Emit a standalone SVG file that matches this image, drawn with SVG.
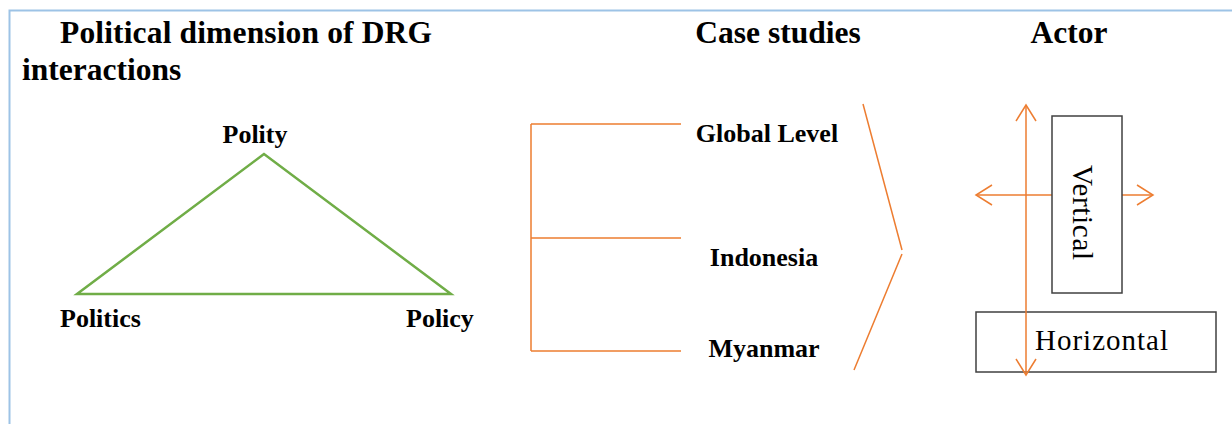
<svg xmlns="http://www.w3.org/2000/svg" width="1232" height="424" viewBox="0 0 1232 424">
<style>
.title{font-family:"Liberation Serif",serif;font-weight:bold;font-size:31.5px;fill:#000}
.lbl{font-family:"Liberation Serif",serif;font-weight:bold;font-size:26px;fill:#000}
.box{font-family:"Liberation Serif",serif;font-size:29px;fill:#000}
.or{stroke:#ED7D31;stroke-width:1.5;fill:none}
.rect{fill:#fff;stroke:#404040;stroke-width:1.5}
</style>
<defs>
<marker id="open" viewBox="0 0 20 24" refX="18" refY="12" markerWidth="20" markerHeight="24" markerUnits="userSpaceOnUse" orient="auto-start-reverse">
<path d="M2,2 L18,12 L2,22" fill="none" stroke="#ED7D31" stroke-width="1.5"/>
</marker>
</defs>
<rect width="1232" height="424" fill="#fff"/>
<path d="M9.5,424 V10.5 H1232" fill="none" stroke="#9DC3E6" stroke-width="2"/>
<g id="titles">
<text class="title" x="60" y="43" textLength="372">Political dimension of DRG</text>
<text class="title" x="22" y="80">interactions</text>
<text class="title" x="778" y="43" text-anchor="middle">Case studies</text>
<text class="title" x="1069" y="43" text-anchor="middle">Actor</text>
</g>
<g id="connectors">
<path d="M264,154 L77,294 L451,294 Z" fill="none" stroke="#70AD47" stroke-width="2.5" stroke-linejoin="miter"/>
<path class="or" d="M531,124 V351 M531,124 H681 M531,238 H681 M531,351 H681"/>
<path class="or" d="M863,104 L902,250 M902,254 L854,370"/>
<line class="or" x1="976" y1="195" x2="1153" y2="195" marker-start="url(#open)" marker-end="url(#open)"/>
</g>
<g id="node-polity"><text class="lbl" x="255" y="143" text-anchor="middle">Polity</text></g>
<g id="node-politics"><text class="lbl" x="60" y="327">Politics</text></g>
<g id="node-policy"><text class="lbl" x="406" y="327">Policy</text></g>
<g id="node-global"><text class="lbl" x="767" y="142" text-anchor="middle">Global Level</text></g>
<g id="node-indonesia"><text class="lbl" x="764" y="266" text-anchor="middle">Indonesia</text></g>
<g id="node-myanmar"><text class="lbl" x="764" y="357" text-anchor="middle">Myanmar</text></g>
<g id="node-vertical">
<rect class="rect" x="1052" y="116" width="70" height="177"/>
<text class="box" transform="translate(1073,165) rotate(90)" textLength="95">Vertical</text>
</g>
<g id="node-horizontal">
<rect class="rect" x="976" y="312" width="240" height="60"/>
<text class="box" x="1035" y="350" textLength="133">Horizontal</text>
</g>
<g id="connector-vertical">
<line class="or" x1="1026" y1="105" x2="1026" y2="375" marker-start="url(#open)" marker-end="url(#open)"/>
</g>
</svg>
